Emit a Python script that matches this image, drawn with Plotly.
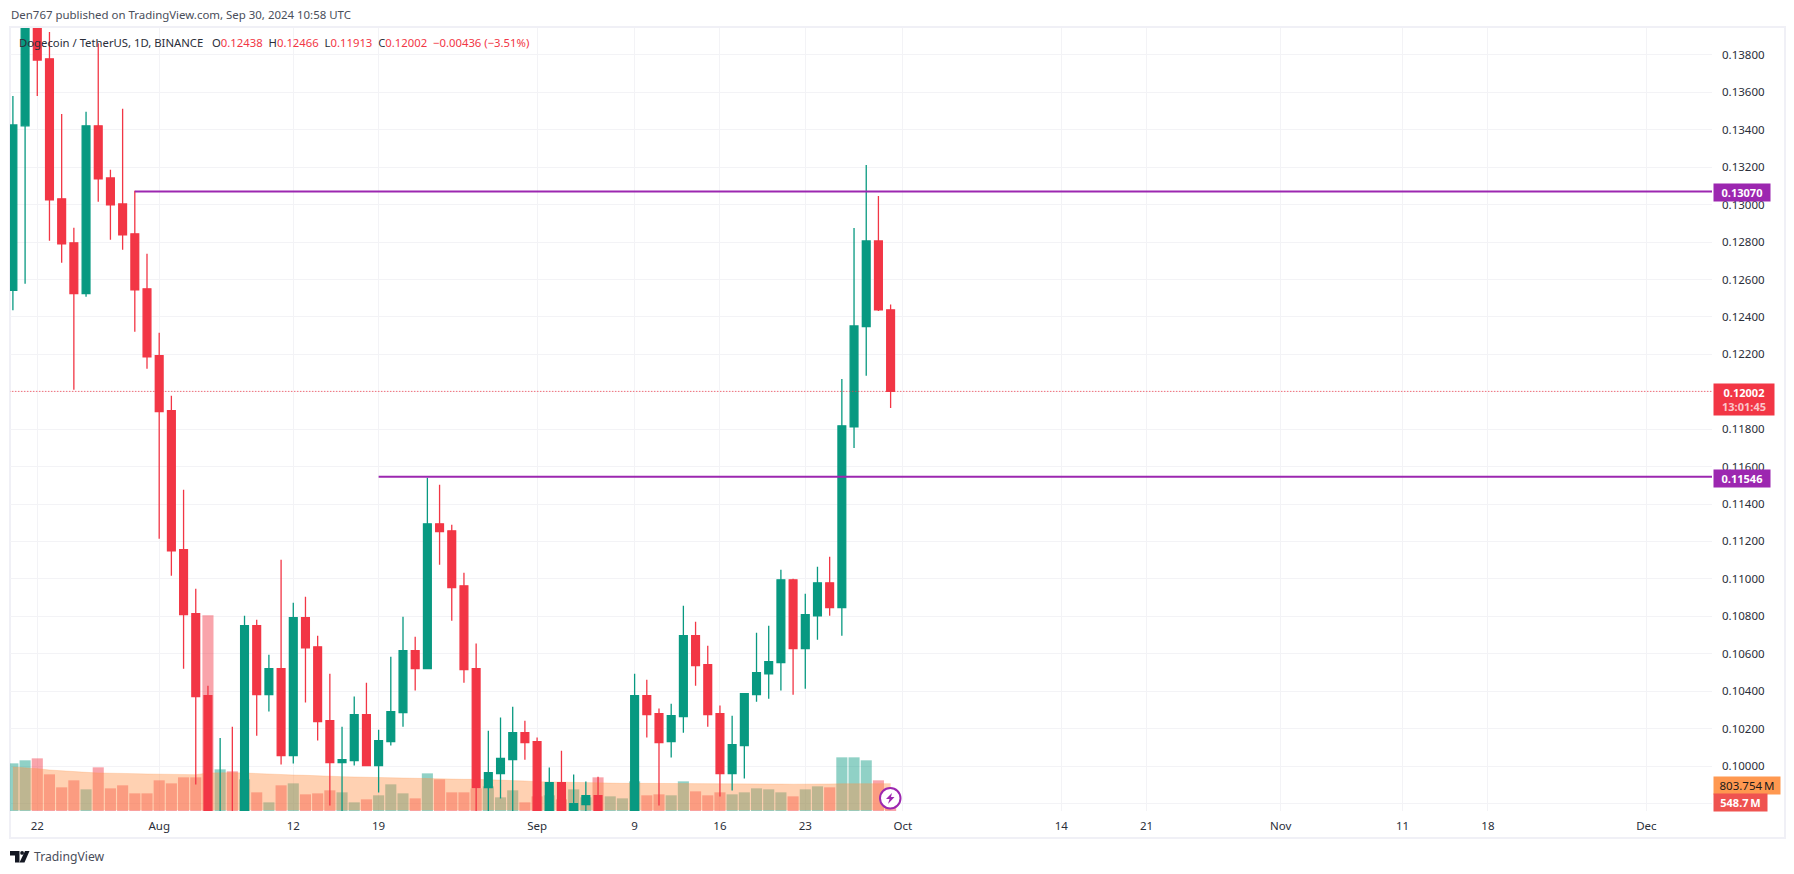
import pandas as pd
import plotly.graph_objects as go

dates = pd.date_range("2024-07-20", "2024-09-30", freq="D")

opens = [0.12542,0.13421,0.14200,0.13779,0.13031,0.12796,0.12524,0.13421,0.13143,0.13004,0.12844,0.12550,
         0.12193,0.11899,0.11156,0.10814,0.10376,0.09450,0.09650,0.09450,0.10750,0.10381,0.10520,0.10056,
         0.10793,0.10637,0.10243,0.10018,0.10029,0.10275,0.10002,0.10130,0.10285,0.10616,0.10520,0.11294,
         0.11257,0.10963,0.10520,0.09885,0.09960,0.10034,0.10178,
         0.10130,0.09650,0.09911,0.09650,0.09794,0.09842,0.09650,0.09680,0.09720,0.10376,0.10280,0.10130,
         0.10264,0.10696,0.10541,0.10280,0.09960,0.10109,0.10381,0.10493,0.10552,0.10995,0.10627,0.10803,
         0.10979,0.10846,0.11813,0.12348,0.12806,0.12438]
highs = [0.13581,0.14300,0.14450,0.13923,0.13485,0.12876,0.13496,0.13862,0.13186,0.13512,0.13074,0.12737,
         0.12315,0.11979,0.11476,0.10947,0.10429,0.10150,0.10210,0.10803,0.10782,0.10595,0.11102,0.10873,
         0.10905,0.10696,0.10493,0.10210,0.10371,0.10445,0.10194,0.10584,0.10798,0.10691,0.11540,0.11503,
         0.11289,0.11033,0.10654,0.10189,0.10259,0.10317,0.10242,
         0.10152,0.09992,0.10082,0.09954,0.09917,0.09943,0.09740,0.09750,0.10493,0.10461,0.10307,0.10333,
         0.10857,0.10771,0.10643,0.10323,0.10269,0.10387,0.10712,0.10750,0.11049,0.11001,0.10921,0.11065,
         0.11118,0.12068,0.12875,0.13212,0.13046,0.12466]
lows = [0.12435,0.12577,0.13581,0.12807,0.12689,0.12011,0.12508,0.13015,0.12812,0.12759,0.12321,0.12123,
        0.11214,0.11017,0.10520,0.09901,0.08000,0.09350,0.09150,0.09300,0.10162,0.10291,0.10008,0.10013,
        0.10339,0.10136,0.09789,0.09700,0.10002,0.10000,0.09858,0.10109,0.10210,0.10403,0.10520,0.11076,
        0.10776,0.10445,0.09700,0.09650,0.09826,0.09700,0.10034,
        0.09550,0.09550,0.09600,0.09500,0.09700,0.09500,0.09600,0.09550,0.09650,0.10152,0.09789,0.10045,
        0.10178,0.10429,0.10210,0.09837,0.09869,0.09933,0.10344,0.10360,0.10403,0.10381,0.10413,0.10675,
        0.10803,0.10696,0.11700,0.12086,0.12432,0.11913]
closes = [0.13426,0.14200,0.13773,0.13026,0.12791,0.12524,0.13421,0.13138,0.12999,0.12839,0.12545,0.12187,
          0.11894,0.11150,0.10809,0.10371,0.09450,0.09650,0.09450,0.10750,0.10381,0.10520,0.10056,0.10793,
          0.10632,0.10237,0.10018,0.10034,0.10275,0.10002,0.10136,0.10291,0.10616,0.10520,0.11294,0.11252,
          0.10953,0.10515,0.09885,0.09965,0.10040,0.10178,0.10125,
          0.09650,0.09911,0.09700,0.09799,0.09842,0.09650,0.09700,0.09720,0.10376,0.10275,0.10125,0.10269,
          0.10696,0.10536,0.10275,0.09960,0.10114,0.10387,0.10499,0.10558,0.10995,0.10627,0.10809,0.10979,
          0.10846,0.11818,0.12352,0.12806,0.12438,0.12002]

volumes_m = [1401,1490,1548,1078,696,902,637,1284,666,755,519,519,902,813,990,990,5753,1225,1166,931,549,255,
             755,813,490,519,608,549,255,343,461,784,519,372,1107,931,549,549,666,725,402,608,255,431,461,343,
             637,402,990,431,372,872,461,490,461,872,578,461,549,490,549,666,637,549,431,637,725,696,1578,1578,
             1490,902,548.7]
volume_ma_m = [1294,1274,1245,1205,1176,1156,1137,1117,1117,1107,1098,1088,1078,1068,1068,1068,1117,1127,1127,
               1117,1098,1078,1068,1058,1049,1029,1019,1009,1000,990,990,990,980,970,960,951,941,931,931,921,
               921,911,882,862,853,843,833,823,823,823,813,813,813,813,813,813,813,813,808,808,804,800,796,792,
               788,784,790,795,800,803,804,804,803.754]
ma_floor_m = 20

resistance = 0.13070
resistance_start = "2024-07-30"
support = 0.11546
support_start = "2024-08-19"
last_price = 0.12002

tick_dates = ["2024-07-22","2024-08-01","2024-08-12","2024-08-19","2024-09-01","2024-09-09","2024-09-16",
              "2024-09-23","2024-10-01","2024-10-14","2024-10-21","2024-11-01","2024-11-11","2024-11-18","2024-12-01"]
tick_text = ["22","Aug","12","19","Sep","9","16","23","Oct","14","21","Nov","11","18","Dec"]
price_ticks = [0.098,0.100,0.102,0.104,0.106,0.108,0.110,0.112,0.114,0.116,0.118,0.120,0.122,0.124,0.126,
               0.128,0.130,0.132,0.134,0.136,0.138]
# 0.09800 sits hidden behind the volume badge in the reference: its gridline stays, its label does not
price_tick_text = ["","0.10000","0.10200","0.10400","0.10600","0.10800","0.11000","0.11200","0.11400","0.11600",
                   "0.11800","","0.12200","0.12400","0.12600","0.12800","0.13000","0.13200","0.13400","0.13600","0.13800"]

FONT = "Noto Sans"
TXT = "#2a2e39"
UP, DOWN = "#089981", "#F23645"
PURPLE = "#9C27B0"
FAR_LEFT, FAR_RIGHT = "2024-07-01", "2025-01-15"

# pane geometry (page pixels)
L, R, T, B = 10, 1712, 28, 811
W, H = 1794, 874
px = lambda v: (v - L) / (R - L)
py = lambda v: (B - v) / (B - T)

fig = go.Figure()

# volume + MA area live on the base axis so candles sit above them
bar_colors = ["rgba(8,153,129,0.45)" if c >= o else "rgba(242,54,69,0.45)" for o, c in zip(opens, closes)]
fig.add_bar(x=dates, y=volumes_m, marker=dict(color=bar_colors, line_width=0), yaxis="y", hoverinfo="skip")
fig.add_scatter(x=dates, y=[ma_floor_m] * len(dates), mode="lines", line=dict(width=0), yaxis="y", hoverinfo="skip")
fig.add_scatter(x=dates, y=volume_ma_m, mode="lines", line=dict(width=1, color="rgba(255,146,72,0.25)"),
                fill="tonexty", fillcolor="rgba(255,146,72,0.42)", yaxis="y", hoverinfo="skip")

fig.add_candlestick(x=dates, open=opens, high=highs, low=lows, close=closes, yaxis="y2",
                    increasing=dict(line=dict(color=UP, width=1.3), fillcolor=UP),
                    decreasing=dict(line=dict(color=DOWN, width=1.3), fillcolor=DOWN),
                    whiskerwidth=0, hoverinfo="skip")

fig.add_scatter(x=[FAR_LEFT, FAR_RIGHT], y=[last_price, last_price], mode="lines", yaxis="y2",
                line=dict(color=DOWN, width=1, dash="1px,2px"), hoverinfo="skip")
fig.add_scatter(x=[resistance_start, FAR_RIGHT], y=[resistance, resistance], mode="lines", yaxis="y2",
                line=dict(color=PURPLE, width=2), hoverinfo="skip")
fig.add_scatter(x=[support_start, FAR_RIGHT], y=[support, support], mode="lines", yaxis="y2",
                line=dict(color=PURPLE, width=2), hoverinfo="skip")

def badge(text, top, bottom, right, bg, color="#ffffff", size=11):
    return dict(text=text, xref="paper", yref="paper", x=px(1713), y=py(top), xanchor="left", yanchor="top",
                width=right - 1713, height=bottom - top, showarrow=False, bgcolor=bg, borderpad=0, align="center",
                valign="middle", font=dict(family=FONT, size=size, color=color))

def label(text, x, y, size=11.45, color=TXT):
    return dict(text=text, xref="paper", yref="paper", x=px(x), y=py(y), xanchor="left", yanchor="middle",
                showarrow=False, borderpad=0, align="left", font=dict(family=FONT, size=size, color=color))

NB = "\u00a0"
red = lambda s: f"<span style='color:{DOWN}'>{s}</span>"
legend = (f"Dogecoin / TetherUS, 1D, BINANCE{NB}{NB}{NB}O{red('0.12438')}{NB}{NB}H{red('0.12466')}{NB}{NB}"
          f"L{red('0.11913')}{NB}{NB}C{red('0.12002')}{NB}{NB}{red('−0.00436 (−3.51%)')}")

annotations = [
    label("Den767 published on TradingView.com, Sep 30, 2024 10:58 UTC", 10, 15, color="#4a4e5a"),
    label(legend, 18, 42, size=11.3),
    label("TradingView", 33, 856, size=12.2, color="#4a4e5a"),
    badge("<b>0.13070</b>", 183, 200, 1769, PURPLE),
    badge("<b>0.12002</b><br><span style='color:#fbc5ca'><b>13:01:45</b></span>", 383, 414, 1773, DOWN),
    badge("<b>0.11546</b>", 469, 486, 1769, PURPLE),
    badge("803.754\u2009M", 776, 793, 1779, "#FF9850", "#1a1a1a", 11.5),
    badge("<b>548.7\u2009M</b>", 793, 810, 1766, "#EF5350"),
]

def pt(x, y):
    return f"{px(x):.5f} {py(y):.5f}"

shapes = [
    # chart frame
    dict(type="rect", xref="paper", yref="paper", x0=px(10), x1=px(1785), y0=py(27), y1=py(838),
         line=dict(color="#F0F0F6", width=2), layer="below"),
    # replay badge
    dict(type="circle", xref="paper", yref="paper", x0=px(880), x1=px(900.5), y0=py(788), y1=py(808.5),
         fillcolor="#ffffff", line=dict(color=PURPLE, width=2), layer="above"),
    dict(type="path", xref="paper", yref="paper", layer="above", fillcolor=PURPLE, line_width=0,
         path=f"M {pt(892,793)} L {pt(886,799)} L {pt(889.5,799)} L {pt(888,804)} L {pt(894.5,797)} L {pt(891,797)} Z"),
    # TradingView mark
    dict(type="path", xref="paper", yref="paper", layer="above", fillcolor="#131722", line_width=0,
         path=f"M {pt(10,851)} L {pt(19.5,851)} L {pt(19.5,862.5)} L {pt(15,862.5)} L {pt(15,855.5)} L {pt(10,855.5)} Z"),
    dict(type="circle", xref="paper", yref="paper", layer="above", fillcolor="#131722", line_width=0,
         x0=px(20.2), x1=px(24), y0=py(851), y1=py(854.8)),
    dict(type="path", xref="paper", yref="paper", layer="above", fillcolor="#131722", line_width=0,
         path=f"M {pt(25,851)} L {pt(29.5,851)} L {pt(24.5,862.5)} L {pt(19.5,862.5)} Z"),
]

fig.update_layout(
    width=W, height=H,
    margin=dict(l=L, r=W - R, t=T, b=H - B, pad=0),
    paper_bgcolor="#ffffff", plot_bgcolor="#ffffff",
    showlegend=False, bargap=0.09, barmode="overlay", dragmode=False,
    boxgap=0.2, boxgroupgap=0.2,
    font=dict(family=FONT, size=11.5, color=TXT),
    annotations=annotations, shapes=shapes,
    xaxis=dict(type="date", range=["2024-07-19 18:17", "2024-12-06 09:07"], rangeslider=dict(visible=False),
               tickmode="array", tickvals=tick_dates, ticktext=tick_text, showgrid=True, gridcolor="#F3F3F6",
               gridwidth=1, zeroline=False, showline=False, ticks="", ticklabelstandoff=6,
               tickfont=dict(family=FONT, size=11.5, color=TXT)),
    yaxis=dict(range=[0, 23020], visible=False, showgrid=False, zeroline=False),
    yaxis2=dict(overlaying="y", side="right", range=[0.097595, 0.13944], tickmode="array", tickvals=price_ticks,
                ticktext=price_tick_text, showgrid=True, gridcolor="#F3F3F6", gridwidth=1, zeroline=False,
                showline=False, ticks="", ticklabelstandoff=9, tickfont=dict(family=FONT, size=11.5, color=TXT)),
)

fig.write_html("out.html", config={"displayModeBar": False, "staticPlot": True},
               post_script="document.body.style.margin='0';document.body.style.overflow='hidden';")
